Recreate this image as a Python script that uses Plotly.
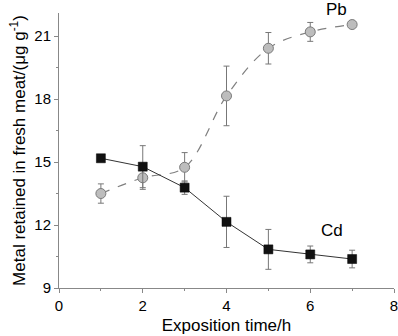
import plotly.graph_objects as go

time_h = [1, 2, 3, 4, 5, 6, 7]
pb_values = [13.5, 14.25, 14.75, 18.15, 20.42, 21.2, 21.55]
pb_err = [0.46, 0.55, 0.7, 1.42, 0.75, 0.45, 0.1]
cd_values = [15.18, 14.78, 13.78, 12.15, 10.84, 10.6, 10.38]
cd_err = [0.0, 1.0, 0.32, 1.22, 0.95, 0.4, 0.42]

x_ticks = [0, 2, 4, 6, 8]
y_ticks = [9, 12, 15, 18, 21]

font = "Liberation Sans, Arial, sans-serif"

fig = go.Figure()
fig.add_trace(go.Scatter(
    x=time_h, y=pb_values, mode="lines+markers", name="Pb",
    line=dict(color="#808080", width=1.2, dash="dash", shape="spline", smoothing=1.0),
    marker=dict(symbol="circle", size=10, color="#bdbdbd", line=dict(color="#7a7a7a", width=1)),
    error_y=dict(type="data", array=pb_err, visible=True, color="#777777", thickness=1, width=3),
))
fig.add_trace(go.Scatter(
    x=time_h, y=cd_values, mode="lines+markers", name="Cd",
    line=dict(color="#333333", width=1),
    marker=dict(symbol="square", size=9, color="#111111", line=dict(color="#000000", width=0.5)),
    error_y=dict(type="data", array=cd_err, visible=True, color="#777777", thickness=1, width=3),
))

fig.add_annotation(x=6.63, y=1.0, yshift=4, text="Pb", showarrow=False, xref="x", yref="paper",
                   yanchor="middle", font=dict(family=font, size=17, color="#000"))
fig.add_annotation(x=6.52, y=11.72, text="Cd", showarrow=False, xref="x", yref="y",
                   font=dict(family=font, size=17, color="#000"))

axis_common = dict(
    showgrid=False, zeroline=False, showline=True, linecolor="#888888", linewidth=1,
    ticks="outside", ticklen=4, tickcolor="#888888", tickwidth=1,
    tickfont=dict(family=font, size=15, color="#000"),
    minor=dict(ticks="outside", ticklen=2, tickcolor="#888888", tickwidth=1),
    automargin=False, ticklabeloverflow="allow",
)

fig.update_xaxes(
    range=[0, 8], tickvals=x_ticks, ticktext=[str(v) for v in x_ticks],
    minor_dtick=1,
    title=dict(text="Exposition time/h", font=dict(family=font, size=17, color="#000"), standoff=6),
    **axis_common,
)
fig.update_yaxes(
    range=[9, 22.1], tickvals=y_ticks, ticktext=[str(v) for v in y_ticks],
    minor_dtick=1.5, minor_tick0=9,
    title=dict(text="Metal retained in fresh meat/(μg g<sup>-1</sup>)", font=dict(family=font, size=17, color="#000"), standoff=4),
    **axis_common,
)

fig.update_layout(
    width=398, height=336,
    margin=dict(l=59, r=4, t=13, b=48),
    paper_bgcolor="white", plot_bgcolor="white",
    showlegend=False,
)
fig.update_traces(cliponaxis=False)

fig.write_html("out.html", config={"displayModeBar": False},
               post_script="document.body.style.margin='0';document.body.style.overflow='hidden';")
